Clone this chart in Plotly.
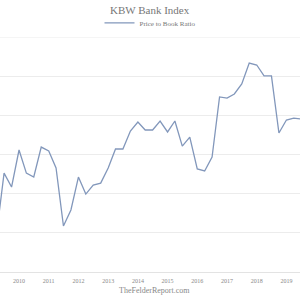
import plotly.graph_objects as go

dates = [
    "2009-04-01", "2009-07-01", "2009-10-01",
    "2010-01-01", "2010-04-01", "2010-07-01", "2010-10-01",
    "2011-01-01", "2011-04-01", "2011-07-01", "2011-10-01",
    "2012-01-01", "2012-04-01", "2012-07-01", "2012-10-01",
    "2013-01-01", "2013-04-01", "2013-07-01", "2013-10-01",
    "2014-01-01", "2014-04-01", "2014-07-01", "2014-10-01",
    "2015-01-01", "2015-04-01", "2015-07-01", "2015-10-01",
    "2016-01-01", "2016-04-01", "2016-07-01", "2016-10-01",
    "2017-01-01", "2017-04-01", "2017-07-01", "2017-10-01",
    "2018-01-01", "2018-04-01", "2018-07-01", "2018-10-01",
    "2019-01-01", "2019-04-01", "2019-07-01",
]
price_to_book = [
    0.80, 1.105, 1.034,
    1.223, 1.105, 1.085, 1.238,
    1.218, 1.131, 0.835, 0.917,
    1.085, 0.998, 1.044, 1.054,
    1.131, 1.228, 1.228, 1.320,
    1.366, 1.325, 1.325, 1.371,
    1.315, 1.371, 1.243, 1.289,
    1.126, 1.116, 1.187, 1.494,
    1.488, 1.509, 1.560, 1.667,
    1.657, 1.601, 1.601, 1.310,
    1.376, 1.386, 1.381,
]
year_ticks = ["2010", "2011", "2012", "2013", "2014", "2015", "2016", "2017", "2018", "2019"]

serif = "Liberation Serif, DejaVu Serif, serif"

fig = go.Figure()
fig.add_trace(go.Scatter(
    x=dates, y=price_to_book, mode="lines", name="Price to Book Ratio",
    line=dict(color="#8297bb", width=1.3),
))

fig.update_layout(
    width=300, height=300,
    margin=dict(l=0, r=0, t=37, b=28),
    paper_bgcolor="white", plot_bgcolor="white",
    showlegend=True,
    legend=dict(orientation="h", x=0.5, xanchor="center", y=1.06, yanchor="middle",
                font=dict(family=serif, size=7, color="#777"),
                bgcolor="rgba(0,0,0,0)"),
    xaxis=dict(
        type="date", range=["2009-05-12", "2019-06-17"],
        tickvals=[y + "-01-01" for y in year_ticks], ticktext=year_ticks,
        showgrid=False, showline=True, linecolor="#e3e3e3", linewidth=1,
        tickfont=dict(family=serif, size=6, color="#888"), ticks="",
        ticklabelstandoff=3,
    ),
    yaxis=dict(
        range=[0.6, 1.8], dtick=0.2, tick0=0.6, showticklabels=False,
        showgrid=True, gridcolor="#ececec", gridwidth=1, zeroline=False,
    ),
    shapes=[
        dict(type="line", xref="paper", yref="y", x0=0, x1=1, y0=1.8, y1=1.8,
             line=dict(color="#ececec", width=1), layer="below"),
    ],
    annotations=[
        dict(text="KBW Bank Index", xref="paper", yref="paper", x=0.5, y=1.115,
             xanchor="center", yanchor="middle", showarrow=False,
             font=dict(family=serif, size=11, color="#777")),
        dict(text="TheFelderReport.com", xref="paper", yref="paper", x=0.515, y=-0.077,
             xanchor="center", yanchor="middle", showarrow=False,
             font=dict(family=serif, size=8, color="#888")),
    ],
)

fig.write_html("out.html")
